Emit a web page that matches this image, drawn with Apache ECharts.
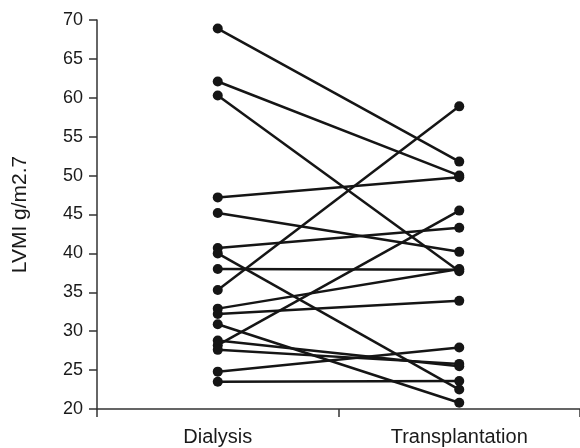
<!DOCTYPE html>
<html>
<head>
<meta charset="utf-8">
<script src="https://cdn.jsdelivr.net/npm/echarts@6/dist/echarts.min.js"></script>
<style>html,body{margin:0;padding:0;background:#fff;}#c{width:580px;height:448px;}</style>
</head>
<body>
<div id="c"></div>
<script>
var categories = ['Dialysis', 'Transplantation'];
var dialysis =   [68.9, 62.1, 60.3, 47.2, 45.2, 40.7, 40.0, 38.0, 35.3, 32.9, 32.2, 30.9, 28.8, 28.2, 27.6, 24.8, 23.5];
var transplant = [51.8, 50.0, 37.7, 49.8, 40.2, 43.3, 22.5, 37.9, 58.9, 38.0, 33.9, 20.8, 25.5, 45.5, 25.8, 27.9, 23.6];
var yTicks = [20, 25, 30, 35, 40, 45, 50, 55, 60, 65, 70];

var series = dialysis.map(function (d, i) {
  return {
    type: 'line',
    data: [d, transplant[i]],
    symbol: 'circle',
    symbolSize: 10,
    lineStyle: { color: '#151515', width: 2.5 },
    itemStyle: { color: '#151515' },
    animation: false,
    z: 3
  };
});

var chart = echarts.init(document.getElementById('c'));
chart.setOption({
  backgroundColor: '#fff',
  animation: false,
  grid: { left: 97, right: -3, top: 20, bottom: 39, containLabel: false },
  xAxis: {
    type: 'category',
    data: categories,
    boundaryGap: true,
    axisLine: { lineStyle: { color: '#333', width: 1.5 } },
    axisTick: { show: true, length: 8, lineStyle: { color: '#333', width: 1.5 } },
    axisLabel: { color: '#1a1a1a', fontSize: 20, fontFamily: 'Liberation Sans, Arial', margin: 18 }
  },
  yAxis: {
    type: 'value',
    min: yTicks[0],
    max: yTicks[yTicks.length - 1],
    interval: 5,
    name: 'LVMI g/m2.7',
    nameLocation: 'middle',
    nameGap: 66,
    nameRotate: 90,
    nameTextStyle: { color: '#1a1a1a', fontSize: 21, fontFamily: 'Liberation Sans, Arial' },
    splitLine: { show: false },
    axisLine: { show: true, lineStyle: { color: '#333', width: 1.5 } },
    axisTick: { show: true, length: 8, lineStyle: { color: '#333', width: 1.5 } },
    axisLabel: { color: '#1a1a1a', fontSize: 18, fontFamily: 'Liberation Sans, Arial', margin: 14 }
  },
  series: series
});
</script>
</body>
</html>
